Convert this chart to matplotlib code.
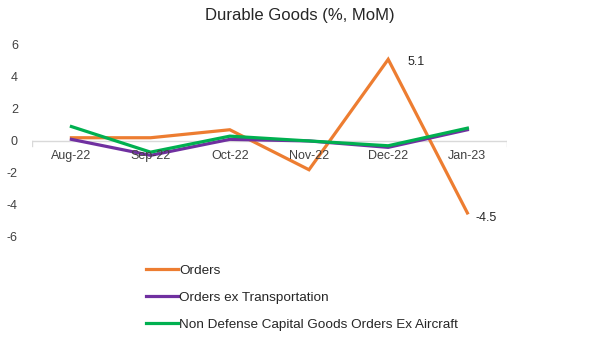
import matplotlib.pyplot as plt
import numpy as np

months = ['Aug-22', 'Sep-22', 'Oct-22', 'Nov-22', 'Dec-22', 'Jan-23']
orders = [0.2, 0.2, 0.7, -1.8, 5.1, -4.5]
orders_ex_transport = [0.1, -0.9, 0.1, 0.0, -0.4, 0.7]
core_capex = [0.9, -0.7, 0.3, 0.0, -0.3, 0.8]
yticks = [-6, -4, -2, 0, 2, 4, 6]

plt.rcParams['font.family'] = ['Liberation Sans', 'DejaVu Sans']

fig = plt.figure(figsize=(6, 3.38), dpi=100)
ax = fig.add_axes([0.053, 0.299, 0.792, 0.568])

x = np.arange(len(months))
ax.plot(x, orders, color='#ED7D31', lw=2.3, label='Orders', solid_joinstyle='miter')
ax.plot(x, orders_ex_transport, color='#7030A0', lw=2.3, label='Orders ex Transportation')
ax.plot(x, core_capex, color='#00B050', lw=2.3, label='Non Defense Capital Goods Orders Ex Aircraft')

ax.annotate(f'{orders[4]}', (x[4], orders[4]), xytext=(14, -4), textcoords='offset points',
            fontsize=9, color='#262626')
ax.annotate(f'{orders[5]}', (x[5], orders[5]), xytext=(6, -6), textcoords='offset points',
            fontsize=9, color='#262626')

ax.set_xlim(-0.5, len(months) - 0.5)
ax.set_ylim(-6, 6)
ax.set_yticks(yticks)
ax.set_yticklabels([str(v) for v in yticks], fontsize=9, color='#404040')
ax.tick_params(axis='y', length=0, pad=10)
ax.set_xticks([])
for xi, m in zip(x, months):
    ax.text(xi, -0.55, m, ha='center', va='top', fontsize=9, color='#404040')

for s in ax.spines.values():
    s.set_visible(False)
ax.axhline(0, color='#D9D9D9', lw=1, zorder=0)
for e in (-0.5, len(months) - 0.5):
    ax.plot([e, e], [0, -0.3], color='#D9D9D9', lw=1, zorder=0)

fig.text(0.5, 0.955, 'Durable Goods (%, MoM)', ha='center', va='center', fontsize=12, color='#262626')

ax.legend(loc='upper left', bbox_to_anchor=(0.215, -0.08), frameon=False, fontsize=9.7,
          handlelength=2.35, handletextpad=0.1, labelspacing=1.08, labelcolor='#262626')

fig.savefig('out.png', dpi=100)
